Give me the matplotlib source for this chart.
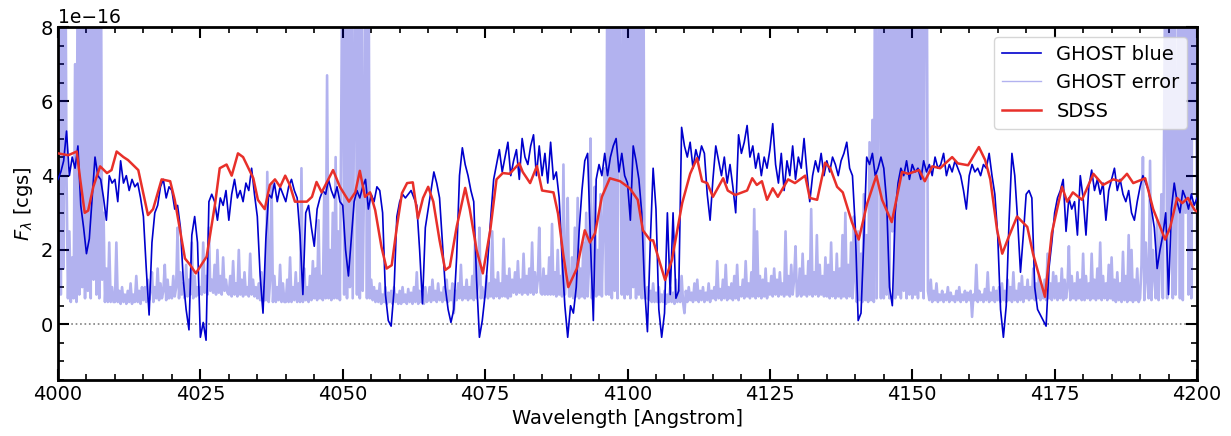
import numpy as np
import matplotlib
matplotlib.use('Agg')
import matplotlib.pyplot as plt
from matplotlib.ticker import MultipleLocator

# fluxes in units of 1e-16 cgs
scale = 1e-16

# GHOST blue arm, 0.5 A sampling starting at 4000 A
ghost_flux = [
    3.9, 4.1, 4.4, 5.2, 4.0, 4.5, 4.2, 4.8, 3.2, 2.6,
    1.9, 2.3, 3.4, 4.5, 4.0, 3.9, 3.4, 2.8, 4.0, 3.8,
    3.9, 3.3, 4.4, 3.8, 4.0, 3.6, 3.9, 3.7, 3.8, 3.4,
    2.9, 1.5, 0.25, 2.2, 3.0, 3.2, 3.7, 3.9, 3.4, 3.7,
    3.6, 3.1, 3.2, 2.6, 1.2, 0.4, -0.15, 2.4, 2.9, 2.2,
    -0.35, 0.05, -0.43, 3.3, 3.5, 3.3, 2.8, 3.4, 3.2, 3.6,
    2.8, 3.5, 3.9, 3.4, 3.6, 3.3, 3.8, 3.6, 4.2, 3.5,
    2.9, 1.3, 0.3, 2.3, 3.5, 3.4, 3.8, 3.3, 3.7, 3.5,
    3.3, 3.7, 3.9, 3.6, 3.4, 2.4, 0.8, 3.0, 3.2, 2.6,
    2.1, 3.1, 3.4, 3.6, 3.5, 3.9, 3.6, 3.4, 3.7, 3.3,
    3.2, 2.0, 1.3, 2.3, 3.3, 3.6, 3.4, 3.7, 3.9, 3.1,
    3.5, 3.3, 3.7, 3.6, 3.0, 0.8, 0.1, -0.05, 0.9, 2.9,
    3.3, 3.5, 3.4, 3.5, 3.6, 3.4, 3.2, 2.0, 0.55, 2.6,
    3.1, 3.6, 4.1, 3.8, 3.4, 2.2, 1.0, 0.4, 0.05, 0.4,
    1.8, 4.0, 4.75, 4.3, 4.0, 3.6, 3.3, 1.2, -0.35, 0.1,
    0.8, 1.8, 2.9, 3.9, 4.3, 4.7, 4.1, 4.5, 4.9, 4.0,
    4.4, 4.7, 3.9, 5.0, 4.5, 4.3, 4.8, 5.1, 4.0, 4.8,
    4.0, 4.6, 3.8, 4.9, 3.9, 4.1, 3.4, 1.8, 0.5, -0.35,
    0.5, 0.3, 1.0, 2.5, 3.6, 4.4, 4.6, 2.2, 0.1, 3.9,
    4.3, 4.0, 4.6, 4.0, 4.5, 4.8, 5.0, 4.1, 4.6, 4.0,
    3.8, 2.8, 4.8, 4.4, 3.9, 3.0, 1.0, -0.2, 2.2, 4.2,
    3.1, 0.4, -0.35, 0.3, 3.0, 0.8, 3.0, 0.7, 0.9, 5.3,
    4.8, 4.5, 4.9, 4.2, 4.7, 4.4, 4.8, 4.6, 3.5, 2.8,
    3.9, 4.8, 4.4, 4.0, 4.5, 3.8, 4.3, 3.7, 3.0, 5.1,
    4.6, 4.9, 5.35, 4.5, 4.8, 4.2, 4.6, 4.0, 4.5, 4.2,
    4.7, 5.4, 4.3, 3.8, 4.6, 3.6, 4.4, 4.0, 4.8, 3.9,
    4.5, 4.2, 5.0, 4.1, 3.3, 4.0, 4.4, 4.1, 4.6, 4.0,
    4.4, 4.1, 4.5, 4.3, 4.0, 4.4, 4.6, 4.9, 4.2, 4.0,
    2.6, 0.1, 0.3, 2.3, 4.5, 4.3, 4.6, 4.0, 4.2, 4.5,
    4.2, 3.3, 1.0, 0.5, 3.0, 3.8, 4.2, 4.0, 4.4, 3.9,
    4.3, 4.1, 4.2, 3.9, 4.4, 4.1, 4.3, 4.0, 4.5, 4.2,
    4.3, 4.6, 4.0, 4.3, 4.1, 4.4, 4.2, 4.0, 3.6, 3.1,
    4.0, 4.3, 4.1, 4.2, 4.0, 4.3, 4.2, 4.6, 4.0, 3.5,
    2.4, 0.4, -0.35, 0.5, 2.8, 4.6, 4.0, 2.8, 1.4, 2.4,
    3.5, 3.6, 3.4, 1.0, 0.4, 0.25, 0.1, -0.05, 1.5, 2.2,
    3.0, 3.4, 3.6, 3.9, 2.5, 3.4, 3.1, 3.3, 2.4, 4.0,
    3.4, 2.4, 3.7, 4.15, 3.6, 3.9, 3.5, 3.8, 2.8, 3.6,
    3.9, 4.2, 3.6, 3.9, 3.5, 3.3, 3.6, 3.0, 2.8, 3.3,
    3.7, 4.0, 3.8, 3.6, 3.1, 2.6, 1.5, 2.0, 2.4, 3.0,
    0.8, 3.1, 3.8, 3.3, 3.0, 3.6, 3.4, 3.1, 3.5, 3.2,
    3.4,
]

# GHOST error spectrum, 0.25 A sampling starting at 4000 A (12 = off the top)
ghost_err = [
    0.7, 12, 0.8, 12, 1.5, 12, 4.0, 0.7, 2.5, 0.6, 1.8, 0.7, 7.0, 0.6, 12, 0.8, 12, 1.0, 12, 0.7,
    12, 0.9, 12, 0.7, 12, 1.2, 12, 0.8, 12, 0.7, 12, 1.2, 3.0, 0.6, 1.5, 0.6, 2.2, 0.6, 1.0, 0.6,
    0.6, 2.2, 0.6, 0.9, 0.55, 1.0, 0.6, 0.8, 0.55, 0.9, 0.6, 1.1, 0.55, 0.8, 0.6, 1.3, 0.6, 0.9, 0.55, 1.0,
    0.65, 1.0, 0.6, 1.2, 0.65, 0.9, 1.4, 0.6, 1.0, 0.7, 1.5, 0.65, 1.1, 0.7, 0.9, 1.6, 0.65, 1.2, 0.7, 1.0,
    0.7, 1.3, 0.75, 1.0, 2.6, 0.7, 1.4, 0.8, 1.1, 0.7, 1.6, 0.75, 1.2, 0.8, 2.2, 0.7, 1.3, 0.75, 1.0, 0.8,
    1.0, 0.8, 2.2, 0.85, 1.3, 0.8, 2.6, 0.9, 1.2, 0.85, 1.6, 0.8, 2.0, 0.85, 1.3, 0.8, 1.8, 0.9, 1.2, 0.85,
    0.8, 1.3, 0.75, 1.7, 0.8, 1.1, 0.75, 2.0, 0.8, 1.2, 0.75, 1.4, 0.8, 1.0, 0.75, 1.9, 0.8, 1.2, 0.75, 1.0,
    0.7, 1.1, 0.65, 1.4, 0.6, 1.0, 0.65, 4.1, 0.6, 1.2, 3.8, 0.6, 1.3, 0.6, 1.0, 0.65, 1.6, 0.6, 1.1, 0.6,
    0.6, 1.2, 0.6, 1.8, 0.6, 1.0, 0.65, 1.4, 0.6, 1.1, 0.6, 4.2, 0.6, 1.5, 0.65, 1.0, 0.6, 1.3, 0.65, 1.7,
    0.7, 1.5, 0.65, 2.8, 0.7, 1.3, 0.65, 3.5, 0.7, 6.7, 0.7, 2.0, 0.65, 3.0, 0.7, 4.5, 0.7, 2.5, 0.65, 5.8,
    12, 0.8, 12, 0.7, 12, 1.0, 12, 0.7, 6, 12, 0.8, 12, 0.7, 12, 0.9, 4, 12, 0.7, 12, 0.7,
    1.2, 0.65, 1.0, 0.6, 0.9, 0.6, 1.1, 0.55, 0.8, 0.6, 1.0, 0.55, 0.85, 0.6, 0.9, 0.55, 1.0, 0.6, 0.8, 0.55,
    0.9, 0.55, 1.0, 0.6, 0.8, 0.55, 0.95, 0.6, 0.85, 0.55, 1.0, 0.6, 1.4, 0.55, 0.9, 0.6, 0.8, 0.55, 1.0, 0.6,
    0.65, 1.0, 0.6, 1.2, 0.65, 0.9, 0.6, 1.1, 0.65, 0.85, 0.6, 1.0, 0.65, 1.2, 0.6, 0.9, 0.65, 1.1, 0.3, 0.9,
    0.65, 1.1, 0.7, 1.6, 0.65, 1.0, 0.7, 1.2, 0.65, 1.0, 0.7, 1.3, 0.65, 2.3, 0.7, 1.1, 2.6, 0.7, 1.0, 0.7,
    0.75, 1.3, 0.7, 1.1, 0.75, 2.5, 0.7, 1.2, 0.75, 1.4, 0.7, 1.1, 0.75, 2.3, 0.75, 1.3, 0.7, 1.5, 0.75, 1.2,
    0.85, 1.4, 0.8, 1.7, 0.85, 1.2, 0.8, 1.9, 0.85, 1.3, 0.8, 1.5, 0.85, 2.2, 0.8, 1.4, 0.85, 1.2, 2.6, 0.85,
    0.8, 1.5, 0.8, 1.3, 0.8, 1.8, 0.8, 2.7, 0.8, 1.4, 0.75, 2.0, 0.8, 1.3, 0.75, 4.3, 0.8, 1.6, 3.4, 0.75,
    0.75, 1.8, 0.7, 2.6, 0.75, 3.4, 0.7, 1.5, 0.75, 2.2, 0.7, 3.0, 0.75, 1.6, 5.0, 0.7, 2.4, 3.7, 0.75, 2.0,
    0.8, 3.5, 0.75, 2.8, 4.2, 0.8, 12, 0.8, 12, 0.7, 12, 0.9, 12, 0.7, 12, 6, 0.8, 12, 0.7, 12,
    0.8, 12, 0.7, 12, 1.0, 12, 0.7, 12, 0.8, 12, 0.7, 12, 0.7, 0.7, 1.0, 0.65, 0.9, 0.6, 1.1, 0.6,
    0.85, 0.6, 1.0, 0.6, 0.8, 0.6, 0.9, 0.55, 0.8, 0.6, 1.0, 0.6, 0.85, 0.55, 1.2, 0.6, 0.9, 0.6, 1.3, 0.6,
    0.3, 0.9, 0.6, 1.0, 0.65, 0.85, 0.6, 1.1, 0.65, 1.2, 0.6, 0.9, 0.65, 1.0, 0.6, 0.85, 0.65, 1.1, 0.6, 0.9,
    0.7, 1.0, 0.65, 1.7, 0.7, 0.95, 0.65, 1.2, 0.7, 1.6, 0.65, 1.0, 0.7, 1.1, 0.65, 1.3, 0.7, 1.6, 0.65, 1.0,
    0.75, 1.2, 0.7, 1.7, 0.75, 1.1, 0.7, 1.4, 0.75, 3.1, 0.7, 2.5, 0.75, 1.3, 0.7, 1.2, 0.75, 1.5, 0.7, 1.1,
    0.8, 1.3, 0.75, 1.5, 0.8, 1.2, 0.75, 1.4, 0.8, 1.1, 0.75, 2.5, 0.8, 1.3, 0.75, 1.6, 0.8, 1.2, 2.1, 0.75,
    0.8, 1.5, 0.75, 1.9, 0.8, 1.3, 0.75, 1.7, 0.8, 3.1, 0.75, 1.4, 0.8, 2.4, 0.75, 1.6, 0.8, 1.3, 0.75, 1.8,
    0.75, 1.6, 0.7, 2.2, 0.75, 1.4, 0.7, 1.9, 0.75, 1.5, 0.7, 2.4, 0.75, 3.0, 0.7, 1.6, 0.75, 2.2, 0.7, 2.9,
    1.2, 0.6, 2.5, 0.65, 1.9, 0.6, 3.5, 0.65, 2.4, 0.6, 4.9, 0.65, 5.5, 0.6, 12, 0.7, 6.5, 12, 0.7, 12,
    0.7, 12, 0.8, 12, 0.7, 12, 2.5, 12, 0.7, 12, 0.8, 12, 0.7, 12, 0.9, 12, 0.7, 12, 0.8, 12,
    0.7, 12, 0.8, 12, 0.7, 12, 0.9, 12, 0.7, 12, 12, 0.9, 0.65, 1.2, 0.6, 0.9, 0.65, 1.1, 0.6, 0.8,
    0.65, 0.9, 0.6, 0.8, 0.65, 1.0, 0.6, 0.85, 0.65, 0.75, 0.6, 0.9, 0.65, 1.0, 0.6, 0.8, 0.65, 0.9, 0.6, 0.85,
    0.65, 0.9, 0.2, 0.8, 0.65, 1.6, 0.6, 0.9, 0.65, 0.8, 0.6, 0.95, 0.65, 1.4, 0.6, 0.85, 0.65, 1.0, 0.6, 0.9,
    0.65, 1.0, 0.6, 1.1, 0.65, 0.9, 0.6, 1.2, 0.65, 1.0, 0.6, 1.4, 0.65, 0.9, 0.6, 1.1, 0.65, 1.3, 0.6, 1.0,
    0.7, 1.2, 0.65, 1.0, 0.7, 1.5, 0.65, 1.1, 0.7, 1.3, 0.65, 1.0, 0.7, 1.2, 0.65, 1.9, 0.7, 1.1, 0.65, 1.4,
    0.7, 1.3, 0.65, 1.1, 0.7, 1.5, 0.65, 1.2, 0.7, 1.0, 2.1, 0.65, 1.3, 0.7, 1.1, 0.65, 1.4, 0.7, 1.2, 0.65,
    1.9, 0.65, 1.3, 0.7, 1.1, 0.65, 1.9, 0.7, 1.2, 0.65, 1.5, 0.7, 2.2, 0.65, 1.3, 0.7, 1.1, 0.65, 1.6, 0.7,
    1.8, 0.65, 1.2, 0.6, 1.4, 0.65, 1.1, 0.6, 1.95, 0.65, 1.3, 0.6, 2.4, 0.65, 2.0, 0.6, 1.2, 0.65, 1.5, 0.6,
    0.7, 1.6, 4.5, 0.65, 2.2, 1.2, 0.7, 4.4, 0.65, 2.0, 1.3, 0.7, 2.8, 0.65, 1.8, 3.5, 0.7, 5.8, 12, 0.7,
    12, 2.5, 12, 0.7, 12, 0.8, 4, 12, 0.7, 12, 0.65, 12, 3, 12, 0.8, 12, 0.7, 12, 5, 12,
    2.0,
]

# SDSS spectrum
sdss_wave = [
    4000.0, 4001.8, 4003.3, 4003.9, 4004.7, 4005.3, 4006.2, 4007.4, 4008.6, 4009.4,
    4010.3, 4011.5, 4012.3, 4014.1, 4015.8, 4016.7, 4018.2, 4019.7, 4020.5, 4022.3,
    4023.2, 4024.2, 4026.1, 4027.6, 4028.4, 4029.6, 4030.5, 4031.6, 4032.5, 4034.3,
    4035.1, 4036.3, 4037.2, 4038.1, 4039.0, 4039.9, 4040.7, 4041.6, 4043.7, 4044.6,
    4045.4, 4046.3, 4048.3, 4049.5, 4051.1, 4052.2, 4053.0, 4053.9, 4054.8, 4055.7,
    4056.8, 4057.7, 4058.6, 4059.5, 4060.4, 4061.3, 4062.3, 4063.2, 4064.1, 4065.0,
    4065.9, 4067.0, 4068.0, 4068.8, 4070.0, 4071.5, 4072.3, 4073.5, 4074.6, 4075.9,
    4077.0, 4078.1, 4079.3, 4081.0, 4081.6, 4082.9, 4084.1, 4085.0, 4087.0, 4087.8,
    4088.7, 4089.6, 4091.1, 4092.5, 4093.4, 4094.3, 4095.5, 4096.9, 4098.7, 4100.4,
    4101.8, 4102.7, 4104.0, 4104.5, 4106.6, 4107.8, 4109.6, 4111.0, 4112.2, 4113.1,
    4114.0, 4115.0, 4116.8, 4117.6, 4118.9, 4121.0, 4121.9, 4122.7, 4123.6, 4124.5,
    4125.5, 4126.4, 4128.2, 4129.4, 4131.2, 4132.0, 4133.3, 4134.7, 4135.6, 4136.8,
    4137.8, 4139.4, 4140.6, 4142.1, 4143.7, 4144.7, 4146.4, 4148.2, 4149.3, 4151.2,
    4152.2, 4153.5, 4154.9, 4157.0, 4158.0, 4159.8, 4161.7, 4162.8, 4163.7, 4164.9,
    4165.8, 4166.8, 4168.4, 4170.2, 4171.2, 4173.3, 4174.5, 4176.3, 4177.2, 4178.2,
    4179.8, 4181.8, 4183.5, 4185.3, 4186.5, 4187.7, 4188.8, 4190.9, 4192.3, 4194.4,
    4195.3, 4196.5, 4197.4, 4198.4, 4199.6, 4200.5,
]
sdss_flux = [
    4.6, 4.55, 4.65, 3.9, 3.0, 3.06, 3.7, 4.25, 4.07, 4.15,
    4.65, 4.5, 4.42, 4.15, 2.94, 3.1, 3.9, 3.85, 3.35, 1.77,
    1.6, 1.37, 1.82, 3.26, 4.2, 4.3, 4.0, 4.6, 4.5, 3.93,
    3.35, 3.1, 3.75, 3.9, 3.7, 4.0, 3.75, 3.3, 3.3, 3.43,
    3.83, 3.55, 4.15, 3.7, 3.3, 3.55, 4.13, 3.43, 3.55, 3.07,
    2.08, 1.5, 1.59, 2.62, 3.53, 3.8, 3.82, 2.85, 3.4, 3.7,
    3.3, 2.26, 1.46, 1.55, 2.62, 3.67, 3.1, 2.0, 1.37, 2.53,
    3.9, 4.07, 4.05, 4.33, 4.1, 3.8, 4.26, 3.6, 3.55, 2.98,
    1.9, 1.0, 1.5, 2.53, 2.2, 2.45, 3.43, 3.93, 3.85, 3.66,
    3.35, 2.53, 2.26, 2.26, 1.19, 1.73, 3.26, 4.05, 4.47, 3.85,
    3.8, 3.43, 3.93, 3.6, 3.48, 3.6, 3.93, 3.75, 3.85, 3.35,
    3.66, 3.43, 3.9, 3.8, 4.0, 3.4, 3.35, 4.35, 4.2, 3.7,
    3.55, 2.75, 2.28, 3.26, 4.0, 3.35, 2.75, 4.1, 4.05, 4.15,
    3.85, 4.25, 4.2, 4.5, 4.33, 4.28, 4.77, 4.42, 3.9, 2.53,
    1.9, 2.3, 2.9, 2.62, 1.9, 0.74, 2.45, 3.7, 3.3, 3.55,
    3.35, 4.05, 3.75, 3.9, 3.85, 4.05, 3.8, 3.93, 3.1, 2.28,
    2.62, 3.4, 3.26, 3.4, 3.07, 3.0,
]

ghost_wave = 4000 + 0.5 * np.arange(len(ghost_flux))
err_wave = 4000 + 0.25 * np.arange(len(ghost_err))

fig = plt.figure(figsize=(12.31, 4.36), dpi=100)
ax = fig.add_axes([0.0471, 0.1284, 0.9253, 0.8096])

ax.plot(ghost_wave, np.array(ghost_flux) * scale, color='mediumblue', lw=1.2,
        label='GHOST blue', zorder=3)
ax.plot(err_wave, np.array(ghost_err) * scale, color='mediumblue', lw=1.9,
        alpha=0.3, label='GHOST error', zorder=2)
ax.plot(sdss_wave, np.array(sdss_flux) * scale, color='#e8302a', lw=1.8,
        label='SDSS', zorder=4)
ax.axhline(0, color='gray', ls=':', lw=1.2, zorder=1)

ax.set_xlim(4000, 4200)
ax.set_ylim(-1.5e-16, 8e-16)
ax.xaxis.set_major_locator(MultipleLocator(25))
ax.xaxis.set_minor_locator(MultipleLocator(5))
ax.yaxis.set_major_locator(MultipleLocator(2e-16))
ax.yaxis.set_minor_locator(MultipleLocator(0.5e-16))
ax.tick_params(which='both', direction='in', top=True, right=True, labelsize=14)
ax.tick_params(which='major', length=8, width=1.5)
ax.tick_params(which='minor', length=4, width=1.2)
ax.yaxis.get_offset_text().set_fontsize(13.5)
for s in ax.spines.values():
    s.set_linewidth(2)

ax.set_xlabel('Wavelength [Angstrom]', fontsize=14)
ax.set_ylabel(r'$F_\lambda$ [cgs]', fontsize=14)
leg = ax.legend(loc='upper right', fontsize=14)
# legend line for the error spectrum is drawn thin, as in the original
leg.get_lines()[1].set_linewidth(1.0)

fig.savefig('out.png', dpi=100)
